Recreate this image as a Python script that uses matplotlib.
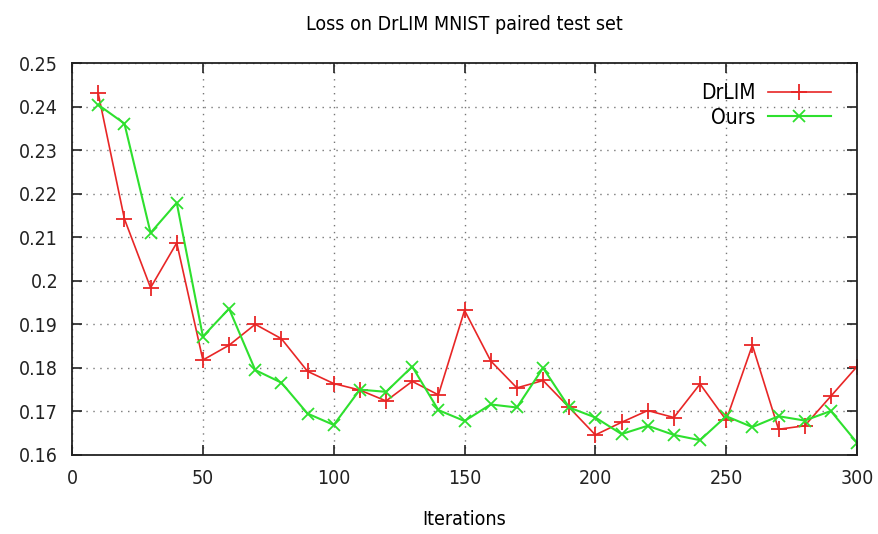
import matplotlib
matplotlib.use("Agg")
import matplotlib.pyplot as plt

# values
iterations = [10, 20, 30, 40, 50, 60, 70, 80, 90, 100,
              110, 120, 130, 140, 150, 160, 170, 180, 190, 200,
              210, 220, 230, 240, 250, 260, 270, 280, 290, 300]
drlim_loss = [0.2430, 0.2142, 0.1984, 0.2087, 0.1818, 0.1852, 0.1900, 0.1867, 0.1792, 0.1764,
              0.1749, 0.1724, 0.1769, 0.1738, 0.1932, 0.1816, 0.1754, 0.1771, 0.1709, 0.1646,
              0.1675, 0.1702, 0.1686, 0.1763, 0.1680, 0.1852, 0.1659, 0.1667, 0.1735, 0.1803]
ours_loss = [0.2404, 0.2361, 0.2110, 0.2179, 0.1872, 0.1936, 0.1795, 0.1766, 0.1695, 0.1669,
             0.1750, 0.1745, 0.1803, 0.1703, 0.1678, 0.1716, 0.1709, 0.1800, 0.1709, 0.1686,
             0.1648, 0.1667, 0.1646, 0.1634, 0.1689, 0.1664, 0.1689, 0.1679, 0.1701, 0.1628]

x_ticks = [0, 50, 100, 150, 200, 250, 300]
y_ticks = [0.16, 0.17, 0.18, 0.19, 0.2, 0.21, 0.22, 0.23, 0.24, 0.25]
y_tick_labels = ["0.16", "0.17", "0.18", "0.19", "0.2", "0.21", "0.22", "0.23", "0.24", "0.25"]

plt.rcParams["font.family"] = ["DejaVu Sans"]
plt.rcParams["font.stretch"] = "condensed"

fig = plt.figure(figsize=(8.79, 5.34), dpi=100)
ax = fig.add_axes([0.082, 0.148, 0.893, 0.734])

ax.plot(iterations, drlim_loss, color="#e82626", lw=1.2, marker="+",
        markersize=11, markeredgewidth=1.3, label="DrLIM")
ax.plot(iterations, ours_loss, color="#2ee02e", lw=1.5, marker="x",
        markersize=9, markeredgewidth=1.3, label="Ours")

ax.set_xlim(0, 300)
ax.set_ylim(0.16, 0.25)
ax.set_xticks(x_ticks)
ax.set_yticks(y_ticks)
ax.set_yticklabels(y_tick_labels)
ax.tick_params(direction="in", length=7, width=1.2, top=True, right=True,
               labelsize=14, pad=10, colors="#222222")
for s in ax.spines.values():
    s.set_linewidth(1.3)
    s.set_color("#222222")
ax.grid(True, linestyle=(0, (1, 4)), color="#777777", linewidth=1.0)

ax.set_title("Loss on DrLIM MNIST paired test set", fontsize=14, pad=24)
ax.set_xlabel("Iterations", fontsize=14, labelpad=16)

ax.legend(loc="upper right", bbox_to_anchor=(0.985, 0.985), frameon=False,
          markerfirst=False, fontsize=15, handlelength=3.0, handletextpad=0.6,
          borderaxespad=0.3, labelspacing=0.2)

plt.savefig("out.png", dpi=100)
